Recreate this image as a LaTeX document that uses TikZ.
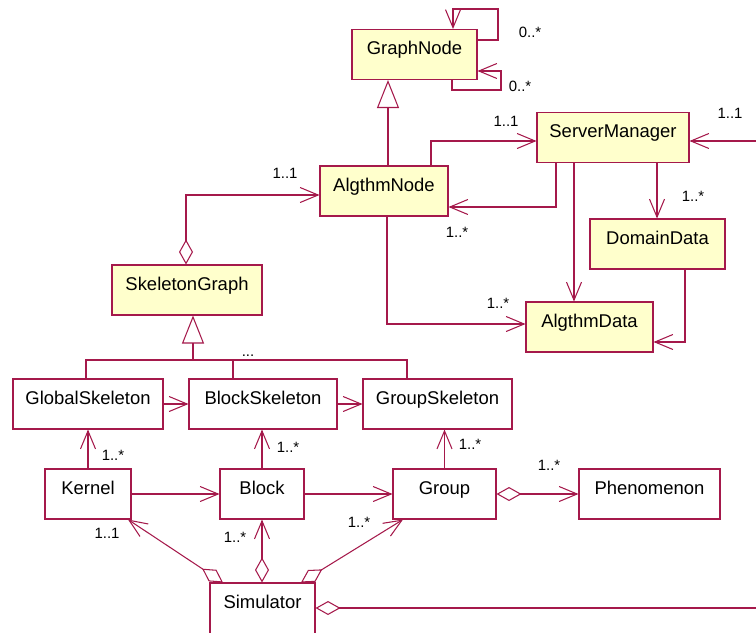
\documentclass[tikz,border=0pt]{standalone}
\usepackage{fontspec}
\setmainfont{Liberation Sans}
\usepackage{xcolor}
\usepackage{tikz}
\usetikzlibrary{arrows.meta,positioning}
\definecolor{umlred}{RGB}{165,25,75}
\definecolor{umlyellow}{RGB}{255,255,204}
\tikzset{cls/.style={rectangle,draw=umlred,fill=umlyellow,line width=0.6pt,minimum height=1cm,text height=0.3cm,text depth=0.3cm,inner sep=0pt,font=\fontsize{10.5}{12}\selectfont},
  obj/.style={cls,fill=white},
  mult/.style={inner sep=0pt,font=\fontsize{8.5}{10}\selectfont},
  nav/.style={draw=umlred,line width=0.6pt,-{Straight Barb[length=0.36cm,width=0.3cm]}},
  agg/.style={draw=umlred,line width=0.6pt,{Diamond[open,length=0.5cm,width=0.28cm]}-},
  aggnav/.style={draw=umlred,line width=0.6pt,{Diamond[open,length=0.5cm,width=0.28cm]}-{Straight Barb[length=0.36cm,width=0.3cm]}},
  inherit/.style={draw=umlred,line width=0.6pt,-{Triangle[open,length=0.56cm,width=0.44cm]}},
  tree/.style={draw=umlred,line width=0.6pt}}

\begin{document}
\begin{tikzpicture}[x=0.02cm,y=-0.02cm]
    \useasboundingbox (0,0) rectangle (756,632);
    \clip (0,0) rectangle (756,632);

    \node[cls,minimum width=2.5cm] (GraphNode) at (414.5,54.5) {GraphNode};
    \node[cls,minimum width=2.56cm] (AlgthmNode) at (384,191) {AlgthmNode};
    \node[cls,minimum width=3.04cm] (ServerManager) at (613,137.5) {ServerManager};
    \node[cls,minimum width=2.7cm] (DomainData) at (657.5,244) {DomainData};
    \node[cls,minimum width=2.54cm] (AlgthmData) at (589.5,327) {AlgthmData};
    \node[cls,minimum width=3cm] (SkeletonGraph) at (187,290) {SkeletonGraph};
    \node[obj,minimum width=3cm] (GlobalSkeleton) at (88,404) {GlobalSkeleton};
    \node[obj,minimum width=2.96cm] (BlockSkeleton) at (263,404) {BlockSkeleton};
    \node[obj,minimum width=2.98cm] (GroupSkeleton) at (437.5,404) {GroupSkeleton};
    \node[obj,minimum width=1.72cm] (Kernel) at (88,494) {Kernel};
    \node[obj,minimum width=1.68cm] (Block) at (262,494) {Block};
    \node[obj,minimum width=2.06cm] (Group) at (444.5,494) {Group};
    \node[obj,minimum width=2.82cm] (Phenomenon) at (649.5,494) {Phenomenon};
    \node[obj,minimum width=2.1cm,minimum height=2cm,text depth=1.3cm] (Simulator) at (262.5,633) {Simulator};
    \coordinate (srvIn) at (760,141);
    \coordinate (simOut) at (760,608);

    \draw [nav] (GraphNode.east |- 0,40) -| (498,9) -| (GraphNode.north -| 453,0);
    \draw [nav] (GraphNode.south -| 452,0) |- (501,90) |- (GraphNode.east |- 0,71);
    \draw [inherit] (AlgthmNode.north -| 388,0) to [] (GraphNode.south -| 388,0);
    \draw [nav] (AlgthmNode.north -| 431,0) |- (ServerManager.west |- 0,141);
    \draw [nav] (ServerManager.south -| 556,0) |- (AlgthmNode.east |- 0,207);
    \draw [nav] (ServerManager.south -| 574,0) to [] (AlgthmData.north -| 574,0);
    \draw [nav] (ServerManager.south -| 657,0) to [] (DomainData.north -| 657,0);
    \draw [nav] (srvIn) to [] (ServerManager.east |- srvIn);
    \draw [nav] (AlgthmNode.south -| 387,0) |- (AlgthmData.west |- 0,324);
    \draw [nav] (DomainData.south -| 685,0) |- (AlgthmData.east |- 0,342);
    \draw [aggnav] (SkeletonGraph.north -| 186,0) |- (AlgthmNode.west |- 0,195);

    \draw [tree] (GlobalSkeleton.north -| 86,0) |- (407,360) -- (GroupSkeleton.north -| 407,0);
    \draw [tree] (BlockSkeleton.north -| 233,0) -- (233,360);
    \draw [inherit] (193,360) to [] (SkeletonGraph.south -| 193,0);

    \draw [nav] (GlobalSkeleton) to [] (BlockSkeleton);
    \draw [nav] (BlockSkeleton) to [] (GroupSkeleton);
    \draw [nav] (Kernel) to [] (GlobalSkeleton);
    \draw [nav] (Block) to [] (BlockSkeleton.south -| Block.north);
    \draw [nav] (Group.north) to [] (GroupSkeleton.south -| Group.north);
    \draw [nav] (Kernel) to [] (Block);
    \draw [nav] (Block) to [] (Group);
    \draw [aggnav] (Group) to [] (Phenomenon);
    \draw [aggnav] (Simulator.north -| 223,0) to [] (Kernel.south -| 128,0);
    \draw [aggnav] (Simulator.north -| Block.south) to [] (Block.south);
    \draw [aggnav] (Simulator.north -| 301,0) to [] (Group.south -| 403,0);
    \draw [agg] (Simulator.east |- simOut) to [] (simOut);

    \node[mult] (m1) at (530,32) {0..*};
    \node[mult] (m2) at (520,86) {0..*};
    \node[mult] (m3) at (506,121) {1..1};
    \node[mult] (m4) at (457,232) {1..*};
    \node[mult] (m5) at (693,196) {1..*};
    \node[mult] (m6) at (730,113) {1..1};
    \node[mult] (m7) at (498,303) {1..*};
    \node[mult] (m8) at (285,173) {1..1};
    \node[mult] (dots) at (248,356) {...};
    \node[mult] (m9) at (113,455) {1..*};
    \node[mult] (m10) at (288,447) {1..*};
    \node[mult] (m11) at (470,444) {1..*};
    \node[mult] (m12) at (549,465) {1..*};
    \node[mult] (m13) at (107,533) {1..1};
    \node[mult] (m14) at (235,537) {1..*};
    \node[mult] (m15) at (359,522) {1..*};
\end{tikzpicture}
\end{document}
